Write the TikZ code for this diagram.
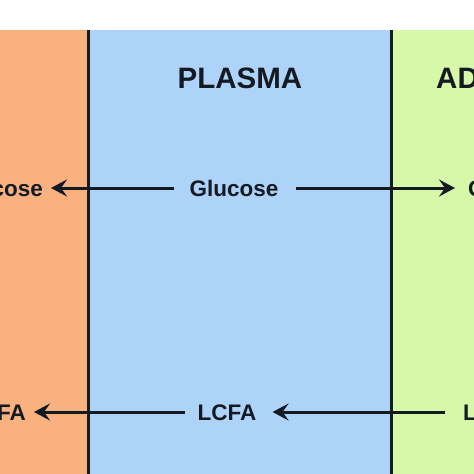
\documentclass[tikz,border=0pt]{standalone}
\usepackage{fontspec}
\setmainfont{Liberation Sans}
\usetikzlibrary{positioning,arrows.meta}
\definecolor{liver}{HTML}{F8B17F}
\definecolor{plasma}{HTML}{ADD3F9}
\definecolor{adipose}{HTML}{D6F8A8}
\definecolor{ink}{HTML}{141A22}
\tikzset{
  label text/.style={font=\fontsize{22.5}{26}\selectfont\bfseries, text=ink, inner sep=0pt, text height=16pt, text depth=0pt},
  head text/.style={font=\fontsize{29.5}{34}\selectfont\bfseries, text=ink, inner sep=0pt, text height=21pt, text depth=0pt},
  flow/.style={ink, line width=3pt, -{Stealth[length=16pt,width=17pt,inset=6pt]}},
  wall/.style={ink, line width=3pt}
}

\begin{document}
\begin{tikzpicture}[x=1pt,y=1pt]
            \useasboundingbox (0,0) rectangle (474,-474);
            \clip (0,0) rectangle (474,-474);
            % compartments
            \fill[liver] (0,-30) rectangle (88,-474);
            \fill[plasma] (88,-30) rectangle (391,-474);
            \fill[adipose] (391,-30) rectangle (474,-474);
            \draw[wall] (88,-30) -- (88,-474);
            \draw[wall] (391,-30) -- (391,-474);

            \draw node (P) [head text] at (240,-78) {PLASMA};
            \draw node (AD) [head text, anchor=west] at (436,-78) {AD};

            % glucose row
            \draw node (G) [label text] at (234,-188) {Glucose};
            \draw node (GL) [label text, anchor=east] at (43,-188) {cose};
            \draw node (GA) [label text, anchor=west] at (468,-188) {G};
            \draw[flow, shorten <=15pt, shorten >=8pt] (G) -- (GL);
            \draw[flow, shorten <=17pt, shorten >=13pt] (G) -- (GA);

            % fatty acid row
            \draw node (F) [label text] at (227,-412) {LCFA};
            \draw node (FL) [label text, anchor=east] at (26,-412) {FA};
            \draw node (FA) [label text, anchor=west] at (463,-412) {L};
            \draw[flow, shorten <=12pt, shorten >=8pt] (F) -- (FL);
            \draw[flow, shorten <=18pt, shorten >=16pt] (FA) -- (F);
\end{tikzpicture}
\end{document}
